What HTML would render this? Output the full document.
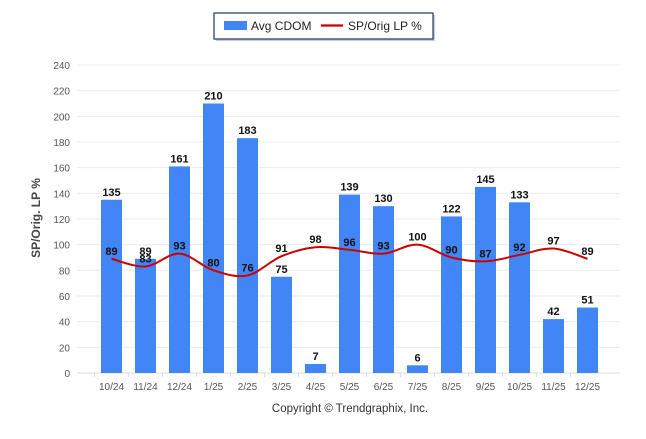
<!DOCTYPE html>
<html><head><meta charset="utf-8"><style>
body{margin:0;background:#fff;}
svg text{font-family:"Liberation Sans",Arial,sans-serif;}
</style></head><body>
<svg id="c" width="646" height="434" xmlns="http://www.w3.org/2000/svg">
<g>
<rect x="216" y="15" width="219" height="26" fill="#999" opacity="0.5"/>
<rect x="214" y="13" width="219" height="26" fill="#fff" stroke="#1f3864" stroke-width="1.2"/>
<rect x="224" y="21" width="23" height="9" fill="#4285f4"/>
<text x="251" y="30" font-size="12" fill="#222">Avg CDOM</text>
<line x1="321" y1="25.5" x2="343" y2="25.5" stroke="#c00" stroke-width="2.2"/>
<text x="348" y="30" font-size="12" fill="#222">SP/Orig LP %</text>
</g>
<text transform="translate(40,218) rotate(-90)" text-anchor="middle" font-size="12" font-weight="bold" fill="#444">SP/Orig. LP %</text>
<text x="350" y="412" text-anchor="middle" font-size="11.5" fill="#333">Copyright © Trendgraphix, Inc.</text>
<g id="grid"></g><g id="bars"></g><g id="line"></g><g id="labels"></g>
</svg>
<script>
const categories=["10/24","11/24","12/24","1/25","2/25","3/25","4/25","5/25","6/25","7/25","8/25","9/25","10/25","11/25","12/25"];
const cdom=[135,89,161,210,183,75,7,139,130,6,122,145,133,42,51];
const sp=[89,83,93,80,76,91,98,96,93,100,90,87,92,97,89];
const yTicks=[0,20,40,60,80,100,120,140,160,180,200,220,240];
const NS="http://www.w3.org/2000/svg";
const y0=373,yTop=65,yMax=240,xL=77,xR=620;
const y=v=>y0-(v/yMax)*(y0-yTop);
const x=i=>111.5+34*i;
function el(t,a,p){const e=document.createElementNS(NS,t);for(const k in a)e.setAttribute(k,a[k]);document.getElementById(p).appendChild(e);return e;}
yTicks.forEach(v=>{
 const g=el("line",{x1:xL,x2:xR,y1:y(v),y2:y(v),stroke:v===0?"#ddd":"#ececec","stroke-width":1},"grid");
 
 
 const t=el("text",{x:70,y:y(v)+4,"text-anchor":"end","font-size":"10",fill:"#555"},"grid");t.textContent=v;
 
 
});
categories.forEach((c,i)=>{
 const t=el("text",{x:x(i),y:390,"text-anchor":"middle","font-size":"10",fill:"#555"},"grid");t.textContent=c;
 
 
 const tk=el("line",{x1:x(i)-17,x2:x(i)-17,y1:y0,y2:y0+4,stroke:"#ddd"},"grid");
 
 
 const b=el("rect",{x:x(i)-10.5,y:y(cdom[i]),width:21,height:y0-y(cdom[i]),fill:"#4285f4"},"bars");
 
 
 const bl=el("text",{x:x(i),y:y(cdom[i])-4,"text-anchor":"middle","font-size":"11","font-weight":"bold",fill:"#111"},"labels");bl.textContent=cdom[i];
 
 
 const ll=el("text",{x:x(i),y:y(sp[i])-4,"text-anchor":"middle","font-size":"11","font-weight":"bold",fill:"#111"},"labels");ll.textContent=sp[i];
 
 
});
const pts=sp.map((v,i)=>[x(i),y(v)]);
let d="M"+pts[0][0]+","+pts[0][1];
for(let i=0;i<pts.length-1;i++){
 const p0=pts[Math.max(0,i-1)],p1=pts[i],p2=pts[i+1],p3=pts[Math.min(pts.length-1,i+2)];
 const c1=[p1[0]+(p2[0]-p0[0])/6,p1[1]+(p2[1]-p0[1])/6],c2=[p2[0]-(p3[0]-p1[0])/6,p2[1]-(p3[1]-p1[1])/6];
 d+=` C${c1[0]},${c1[1]} ${c2[0]},${c2[1]} ${p2[0]},${p2[1]}`;
}
const ln=el("path",{d:d,fill:"none",stroke:"#c00","stroke-width":2},"line");


</script>
</body></html>
